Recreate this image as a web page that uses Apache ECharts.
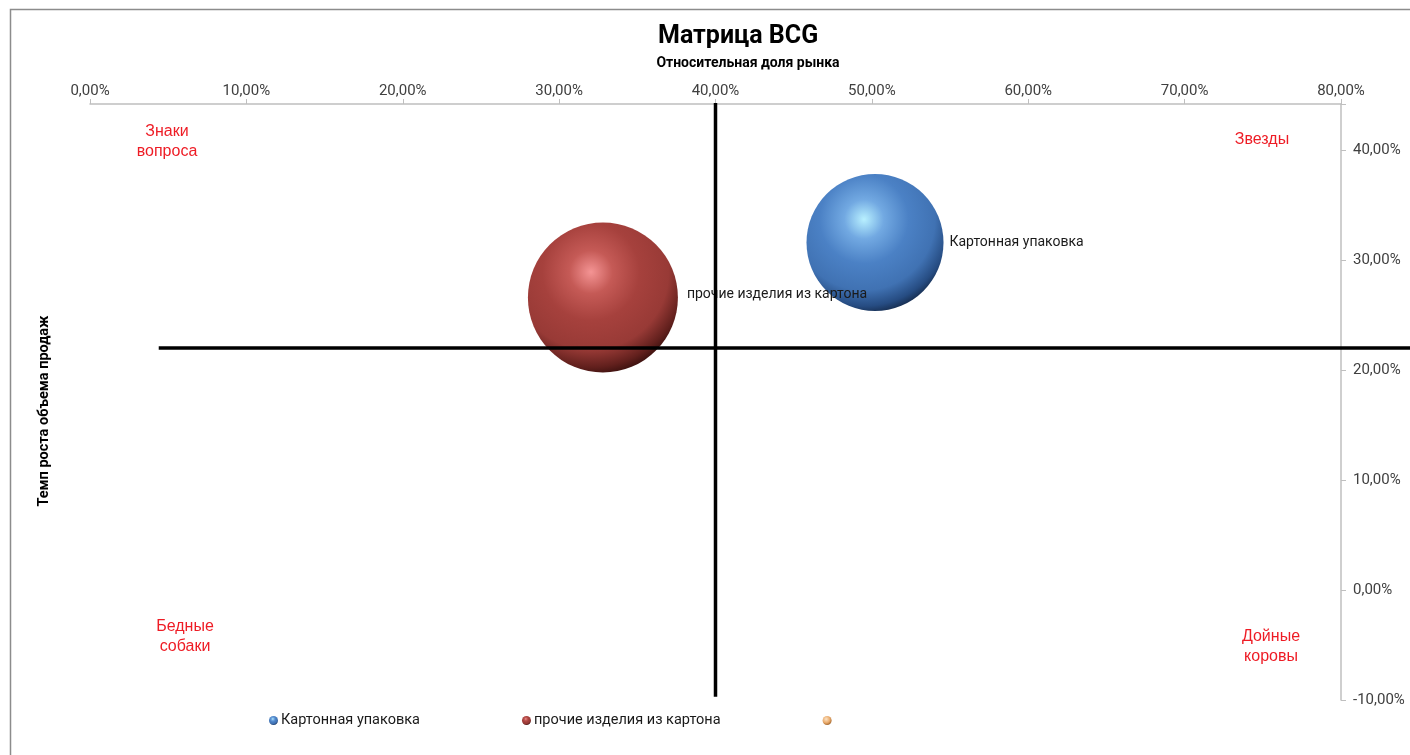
<!DOCTYPE html>
<html>
<head>
<meta charset="utf-8">
<script src="https://cdn.jsdelivr.net/npm/echarts@6/dist/echarts.min.js"></script>
<style>
html,body{margin:0;padding:0;background:#fff;}
#main{width:1410px;height:755px;}
</style>
</head>
<body>
<div id="main"></div>
<script>
// названия продуктов (серии)
var product_names = ["Картонная упаковка", "прочие изделия из картона", " "];

// относительная доля рынка, %
var market_share = [50.2, 32.8];

// темп роста объема продаж, %
var growth_rate = [31.6, 26.6];

// размер пузырька (диаметр в пикселях на рисунке)
var bubble_size = [137, 150];

// линии раздела квадрантов
var h_line_x = [4.4, 84.5], h_line_y = 22;
var v_line_x = 40, v_line_y = [44.3, -9.7];

// подписи квадрантов
var quadrant_texts = ["Знаки\nвопроса", "Звезды", "Бедные\nсобаки", "Дойные\nкоровы"];

// оси
var x_min = 0, x_max = 80, x_step = 10;
var x_max_wide = 84.5; // вспомогательная ось до края рисунка
var y_min = -10, y_max = 44.2, y_step = 10;

function pct(v){
	return v.toFixed(2).replace(".", ",") + "%";
}

var sphere_blue = {
	type: "radial", x: 0.42, y: 0.33, r: 0.72,
	colorStops: [
		{offset: 0, color: "#b8f0ff"},
		{offset: 0.2, color: "#72a9e2"},
		{offset: 0.45, color: "#4b81c5"},
		{offset: 0.72, color: "#4072b3"},
		{offset: 0.88, color: "#264c82"},
		{offset: 1, color: "#0f1f38"}
	]
};
var sphere_red = {
	type: "radial", x: 0.42, y: 0.33, r: 0.72,
	colorStops: [
		{offset: 0, color: "#f49494"},
		{offset: 0.2, color: "#c55a56"},
		{offset: 0.45, color: "#a6413d"},
		{offset: 0.72, color: "#983a36"},
		{offset: 0.88, color: "#62201d"},
		{offset: 1, color: "#2a0a08"}
	]
};
var sphere_orange = {
	type: "radial", x: 0.4, y: 0.35, r: 0.7,
	colorStops: [
		{offset: 0, color: "#fde3c4"},
		{offset: 0.6, color: "#e8a868"},
		{offset: 1, color: "#9a5e25"}
	]
};
var sphere_colors = [sphere_blue, sphere_red, sphere_orange];

var tickColor = "#404040";
var calibri = "Roboto, 'Noto Sans', sans-serif";
var arial = "'Liberation Sans', Arial, sans-serif";

var series = [];
for (var i = 0; i < product_names.length; i++) {
	var pts = [];
	if (i < market_share.length) {
		pts.push({value: [market_share[i], growth_rate[i]], symbolSize: bubble_size[i]});
	}
	series.push({
		name: product_names[i],
		type: "scatter",
		data: pts,
		z: 3,
		itemStyle: {color: sphere_colors[i], opacity: 1},
		label: {
			show: true,
			position: "right",
			distance: 6,
			formatter: "{a}",
			color: "#1a1a1a",
			fontSize: 14,
			fontFamily: calibri
		}
	});
}
series[1].label.offset = [3, -3];

// горизонтальная линия (на вспомогательной сетке до края рисунка)
series.push({
	type: "line",
	xAxisIndex: 1, yAxisIndex: 1,
	data: [[h_line_x[0], h_line_y], [h_line_x[1], h_line_y]],
	symbol: "none", clip: false, silent: true, z: 5,
	lineStyle: {color: "#000", width: 3.5}
});
// вертикальная линия
series.push({
	type: "line",
	data: [[v_line_x, v_line_y[0]], [v_line_x, v_line_y[1]]],
	symbol: "none", clip: false, silent: true, z: 5,
	lineStyle: {color: "#000", width: 3.5}
});

var quad_pos = [[167, 122], [1262, 130], [185, 617], [1271, 627]];
var graphics = [
	{type: "rect", left: 8, top: 7, silent: true, z: -1,
	 shape: {width: 1600, height: 900},
	 style: {fill: null, stroke: "#8c8c8c", lineWidth: 1.5}},
	{type: "text", x: 748, y: 63, silent: true,
	 style: {text: "Относительная доля рынка", align: "center", verticalAlign: "middle",
		fontSize: 14, fontWeight: "bold", fontFamily: calibri, fill: "#000"}},
	{type: "text", x: 44, y: 411, rotation: Math.PI / 2, silent: true,
	 style: {text: "Темп роста объема продаж", align: "center", verticalAlign: "middle",
		fontSize: 14.5, fontWeight: "bold", fontFamily: calibri, fill: "#000"}}
];
for (var q = 0; q < quadrant_texts.length; q++) {
	graphics.push({type: "text", x: quad_pos[q][0], y: quad_pos[q][1], silent: true,
		style: {text: quadrant_texts[q], align: "center", verticalAlign: "top",
			fontSize: 16, lineHeight: 20, fontFamily: arial, fill: "#ee1c25"}});
}

var myChart = echarts.init(document.getElementById("main"));
var option = {
	backgroundColor: "#fff",
	animation: false,
	title: {
		text: "Матрица BCG",
		left: 653, top: 19,
		textStyle: {fontSize: 25, fontWeight: "bold", fontFamily: calibri, color: "#000"}
	},
	legend: {
		data: product_names,
		left: 264, top: 708,
		icon: "circle",
		itemWidth: 9, itemHeight: 9, itemGap: 102,
		textStyle: {fontSize: 14.5, fontFamily: calibri, color: "#1a1a1a", padding: [0, 0, 0, -2]}
	},
	grid: [
		{left: 90, right: 69, top: 104, bottom: 55},
		{left: 90, right: 0, top: 104, bottom: 55}
	],
	xAxis: [{
		type: "value",
		position: "top",
		min: x_min, max: x_max, interval: x_step,
		axisLine: {show: true, onZero: false, lineStyle: {color: "#bfbfbf", width: 1.5}},
		axisTick: {show: true, length: 5, lineStyle: {color: "#bfbfbf"}},
		splitLine: {show: false},
		axisLabel: {formatter: pct, color: tickColor, fontSize: 15, fontFamily: calibri, margin: 5}
	}, {
		type: "value", gridIndex: 1, show: false,
		min: x_min, max: x_max_wide
	}],
	yAxis: [{
		type: "value",
		position: "right",
		min: y_min, max: y_max, interval: y_step,
		axisLine: {show: true, onZero: false, lineStyle: {color: "#bfbfbf", width: 1.5}},
		axisTick: {show: true, length: 5, lineStyle: {color: "#bfbfbf"}},
		splitLine: {show: false},
		axisLabel: {
			formatter: function (v) {
				return Math.abs(v % y_step) < 1e-6 ? pct(v) : "";
			},
			color: tickColor, fontSize: 15, fontFamily: calibri, margin: 12
		}
	}, {
		type: "value", gridIndex: 1, show: false,
		min: y_min, max: y_max
	}],
	graphic: graphics,
	series: series
};
myChart.setOption(option);
</script>
</body>
</html>
